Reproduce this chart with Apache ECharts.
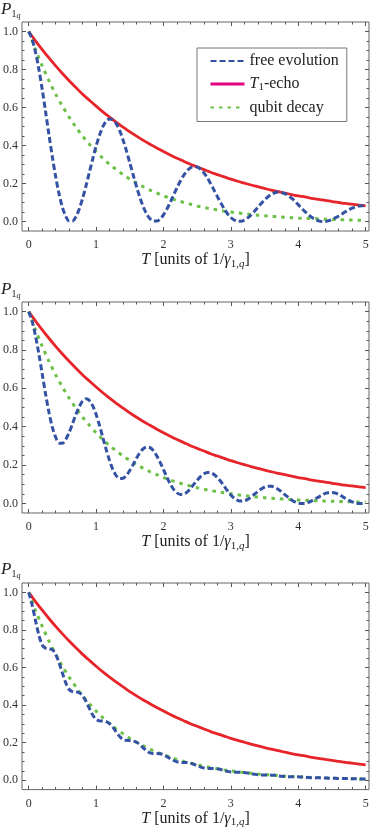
<!DOCTYPE html>
<html>
<head>
<meta charset="utf-8">
<script src="https://cdn.jsdelivr.net/npm/echarts@6/dist/echarts.min.js"></script>
<style>
  html, body { margin: 0; padding: 0; background: #fff; }
  #chart { width: 374px; height: 829px; }
</style>
</head>
<body>
<div id="chart"></div>
<script>
// sample positions along T
const tFine = Array.from({ length: 101 }, (_, i) => +(i * 0.05).toFixed(2));
const tCoarse = Array.from({ length: 51 }, (_, i) => +(i * 0.1).toFixed(1));

// T1-echo (red), same in all panels
const echo = [1.000,0.951,0.905,0.861,0.819,0.779,0.741,0.705,0.670,0.638,
  0.607,0.577,0.549,0.522,0.497,0.472,0.449,0.427,0.407,0.387,
  0.368,0.350,0.333,0.317,0.301,0.287,0.273,0.259,0.247,0.235,
  0.223,0.212,0.202,0.192,0.183,0.174,0.165,0.157,0.150,0.142,
  0.135,0.129,0.122,0.116,0.111,0.105,0.100,0.095,0.091,0.086,0.082];

// qubit decay (green dots)
const qubit = [1.000,0.905,0.819,0.741,0.670,0.607,0.549,0.497,0.449,0.407,
  0.368,0.333,0.301,0.273,0.247,0.223,0.202,0.183,0.165,0.150,
  0.135,0.122,0.111,0.100,0.091,0.082,0.074,0.067,0.061,0.055,
  0.050,0.045,0.041,0.037,0.033,0.030,0.027,0.025,0.022,0.020,
  0.018,0.017,0.015,0.014,0.012,0.011,0.010,0.009,0.008,0.007,0.007];

// free evolution, top panel
const free1 = [1.000,0.960,0.892,0.802,0.695,0.578,0.457,0.341,0.235,0.145,
  0.074,0.027,0.003,0.003,0.025,0.066,0.122,0.188,0.259,0.330,
  0.397,0.454,0.499,0.528,0.540,0.535,0.514,0.478,0.429,0.372,
  0.309,0.245,0.183,0.126,0.077,0.040,0.014,0.002,0.002,0.013,
  0.035,0.065,0.100,0.139,0.177,0.213,0.243,0.267,0.283,0.289,
  0.287,0.275,0.256,0.230,0.199,0.165,0.131,0.098,0.067,0.041,
  0.021,0.008,0.001,0.001,0.007,0.019,0.035,0.054,0.074,0.095,
  0.114,0.130,0.143,0.151,0.155,0.153,0.147,0.137,0.123,0.107,
  0.089,0.070,0.052,0.036,0.022,0.011,0.004,0.000,0.000,0.004,
  0.010,0.019,0.029,0.040,0.051,0.061,0.070,0.077,0.081,0.083,0.082];

// free evolution, middle panel
const free2 = [1.000,0.950,0.874,0.780,0.675,0.570,0.475,0.398,0.344,0.315,
  0.314,0.334,0.370,0.416,0.464,0.504,0.534,0.545,0.536,0.508,
  0.464,0.407,0.343,0.280,0.223,0.176,0.144,0.130,0.131,0.146,
  0.172,0.203,0.236,0.265,0.285,0.294,0.291,0.275,0.248,0.214,
  0.176,0.137,0.101,0.073,0.055,0.047,0.049,0.059,0.078,0.099,
  0.121,0.140,0.154,0.161,0.160,0.151,0.135,0.114,0.090,0.066,
  0.044,0.027,0.016,0.012,0.014,0.021,0.033,0.048,0.062,0.075,
  0.085,0.090,0.089,0.084,0.074,0.061,0.046,0.032,0.018,0.008,
  0.001,0.000,0.000,0.005,0.013,0.023,0.033,0.043,0.052,0.056,
  0.057,0.054,0.047,0.037,0.026,0.016,0.008,0.002,0.000,0.000,0.002];

// free evolution, bottom panel
const free3 = [1.000,0.934,0.851,0.773,0.720,0.703,0.700,0.695,0.670,0.626,
  0.570,0.518,0.483,0.472,0.470,0.466,0.449,0.420,0.382,0.347,
  0.324,0.316,0.315,0.312,0.301,0.281,0.256,0.233,0.217,0.212,
  0.211,0.209,0.202,0.189,0.172,0.156,0.145,0.142,0.142,0.141,
  0.135,0.126,0.115,0.105,0.098,0.095,0.094,0.094,0.091,0.085,
  0.077,0.070,0.065,0.063,0.063,0.063,0.061,0.057,0.052,0.047,
  0.044,0.043,0.042,0.042,0.041,0.038,0.035,0.032,0.029,0.028,
  0.028,0.028,0.027,0.026,0.023,0.021,0.020,0.019,0.019,0.019,
  0.018,0.017,0.016,0.014,0.013,0.013,0.013,0.013,0.012,0.011,
  0.010,0.010,0.009,0.009,0.009,0.009,0.008,0.008,0.007,0.006,0.006];

const freePanels = [free1, free2, free3];

// ticks
const xMajorTicks = [0, 1, 2, 3, 4, 5];
const xMinorTicks = [0.2,0.4,0.6,0.8,1.2,1.4,1.6,1.8,2.2,2.4,2.6,2.8,
  3.2,3.4,3.6,3.8,4.2,4.4,4.6,4.8];
const yMajorTicks = [0, 0.2, 0.4, 0.6, 0.8, 1.0];
const yMinorTicks = [0.05,0.1,0.15,0.25,0.3,0.35,0.45,0.5,0.55,0.65,0.7,0.75,
  0.85,0.9,0.95];

const serif = '"Liberation Serif", "DejaVu Serif", serif';
const blue = '#3352a3';
const red = '#e6242a';
const green = '#6cc045';
const magenta = '#e4007f';
const tickColor = '#555';

const gridTops = [22, 302, 583];
const gridHeights = [209, 211, 211];

const pair = (xs, ys) => xs.map((x, i) => [x, ys[i]]);

let myCharts = echarts.init(document.getElementById('chart'));

const grids = [];
const xAxes = [];
const yAxes = [];
const series = [];

gridTops.forEach((top, gi) => {
    grids.push({
        left: 22,
        right: 5,
        top: top,
        height: gridHeights[gi],
        show: true,
        borderColor: '#666',
        borderWidth: 1
    });

    // bottom/top x axes: major and minor ticks
    ['bottom', 'top'].forEach(pos => {
        xAxes.push({
            gridIndex: gi,
            type: 'value',
            position: pos,
            min: -0.1,
            max: 5.05,
            axisLine: { show: false, onZero: false },
            splitLine: { show: false },
            axisTick: {
                show: true, inside: true, length: 4,
                customValues: xMajorTicks,
                lineStyle: { color: tickColor }
            },
            axisLabel: {
                show: pos === 'bottom',
                customValues: xMajorTicks,
                margin: 8,
                color: '#333',
                fontFamily: serif,
                fontSize: 12
            },
            name: pos === 'bottom' ? '{i|T} [units of 1/{i|γ}{s|1,}{si|q}]' : '',
            nameLocation: 'middle',
            nameGap: 19,
            nameTextStyle: {
                color: '#222',
                fontFamily: serif,
                fontSize: 16,
                rich: {
                    i: { fontFamily: serif, fontStyle: 'italic', fontSize: 16, color: '#222' },
                    s: { fontFamily: serif, fontSize: 11, color: '#222', padding: [8, 0, 0, 0] },
                    si: { fontFamily: serif, fontStyle: 'italic', fontSize: 11, color: '#222', padding: [8, 0, 0, 0] }
                }
            }
        });
        xAxes.push({
            gridIndex: gi,
            type: 'value',
            position: pos,
            min: -0.1,
            max: 5.05,
            axisLine: { show: false, onZero: false },
            splitLine: { show: false },
            axisTick: {
                show: true, inside: true, length: 2.5,
                customValues: xMinorTicks,
                lineStyle: { color: tickColor }
            },
            axisLabel: { show: false }
        });
    });

    ['left', 'right'].forEach(pos => {
        yAxes.push({
            gridIndex: gi,
            type: 'value',
            position: pos,
            min: -0.05,
            max: 1.05,
            axisLine: { show: false, onZero: false },
            splitLine: { show: false },
            axisTick: {
                show: true, inside: true, length: 4,
                customValues: yMajorTicks,
                lineStyle: { color: tickColor }
            },
            axisLabel: {
                show: pos === 'left',
                customValues: yMajorTicks,
                formatter: v => v.toFixed(1),
                margin: 4,
                color: '#333',
                fontFamily: serif,
                fontSize: 12
            }
        });
        yAxes.push({
            gridIndex: gi,
            type: 'value',
            position: pos,
            min: -0.05,
            max: 1.05,
            axisLine: { show: false, onZero: false },
            splitLine: { show: false },
            axisTick: {
                show: true, inside: true, length: 2.5,
                customValues: yMinorTicks,
                lineStyle: { color: tickColor }
            },
            axisLabel: { show: false }
        });
    });

    const axisIdx = { xAxisIndex: gi * 4, yAxisIndex: gi * 4 };

    series.push({
        name: 'T1-echo',
        type: 'line',
        ...axisIdx,
        data: pair(tCoarse, echo),
        symbol: 'none',
        smooth: 0.3,
        z: 2,
        lineStyle: { color: red, width: 2.8 },
        itemStyle: { color: red }
    });
    series.push({
        name: 'qubit decay',
        type: 'line',
        ...axisIdx,
        data: pair(tCoarse, qubit),
        symbol: 'none',
        smooth: 0.3,
        z: 3,
        lineStyle: { color: green, width: 3, type: [3.5, 5] },
        itemStyle: { color: green }
    });
    series.push({
        name: 'free evolution',
        type: 'line',
        ...axisIdx,
        data: pair(tFine, freePanels[gi]),
        symbol: 'none',
        smooth: 0.3,
        z: 4,
        lineStyle: { color: blue, width: 3, type: [6, 3] },
        itemStyle: { color: blue }
    });
});

const pLabelTops = [1, 281, 561];

const option = {
    animation: false,
    backgroundColor: '#fff',
    grid: grids,
    xAxis: xAxes,
    yAxis: yAxes,
    legend: {
        show: true,
        orient: 'vertical',
        left: 197,
        top: 48,
        padding: [5, 8, 6, 12],
        itemWidth: 34,
        itemHeight: 14,
        itemGap: 7,
        borderColor: '#777',
        borderWidth: 1,
        backgroundColor: '#fff',
        itemStyle: { opacity: 0, borderWidth: 0 },
        data: [
            { name: 'free evolution' },
            { name: 'T1-echo', lineStyle: { color: magenta, width: 3 } },
            { name: 'qubit decay' }
        ],
        formatter: name => name === 'T1-echo' ? '{i|T}{s|1}-echo' : name,
        textStyle: {
            color: '#222',
            fontFamily: serif,
            fontSize: 16,
            rich: {
                i: { fontFamily: serif, fontStyle: 'italic', fontSize: 16, color: '#222' },
                s: { fontFamily: serif, fontSize: 11, color: '#222', padding: [6, 0, 0, 0] }
            }
        }
    },
    graphic: pLabelTops.map(top => ({
        type: 'text',
        left: 1,
        top: top,
        style: {
            text: '{p|P}{s|1}{ss|q}',
            rich: {
                p: { fontFamily: serif, fontStyle: 'italic', fontSize: 17, fill: '#222' },
                s: { fontFamily: serif, fontSize: 10, fill: '#222', padding: [9, 0, 0, 0] },
                ss: { fontFamily: serif, fontStyle: 'italic', fontSize: 8, fill: '#222', padding: [13, 0, 0, 0] }
            }
        }
    })),
    series: series
};

myCharts.setOption(option);
</script>
</body>
</html>
